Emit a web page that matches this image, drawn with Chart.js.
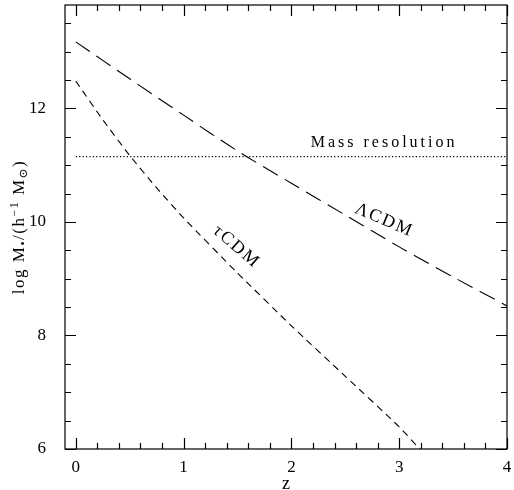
<!DOCTYPE html>
<html>
<head>
<meta charset="utf-8">
<script src="https://cdn.jsdelivr.net/npm/chart.js@4.4.1/dist/chart.umd.min.js"></script>
<style>
    html, body { margin: 0; padding: 0; background: #fff; }
    #wrap { width: 514px; height: 490px; }
</style>
</head>
<body>
<div id="wrap"><canvas id="chart" width="514" height="490"></canvas></div>
<script>
// redshift grid
const lambdaZ = [0, 0.5, 1, 1.5, 2, 2.5, 3, 3.5, 4];
const lambdaLogM = [13.17, 12.52, 11.88, 11.25, 10.68, 10.12, 9.56, 9.03, 8.52];

const tauZ = [0, 0.25, 0.5, 0.75, 1, 1.5, 2, 2.5, 3, 3.19];
const tauLogM = [12.48, 11.8, 11.17, 10.6, 10.07, 9.1, 8.17, 7.28, 6.39, 6.0];

const massResZ = [0, 4];
const massResLogM = [11.15, 11.15];

const xTickValues = [0, 1, 2, 3, 4];
const yTickValues = [6, 8, 10, 12];

const toPoints = (xs, ys) => xs.map((x, i) => ({ x: x, y: ys[i] }));

const serif = "'Liberation Serif', 'DejaVu Serif', serif";

// draws a run of [text, shift] pieces left to right, shift in px (neg = raised)
function drawPieces(ctx, pieces, size) {
    let total = 0;
    pieces.forEach((p) => {
        ctx.font = (p[1] ? size * 0.7 : size) + "px " + serif;
        total += ctx.measureText(p[0]).width;
    });
    let x = -total / 2;
    pieces.forEach((p) => {
        ctx.font = (p[1] ? size * 0.7 : size) + "px " + serif;
        ctx.fillText(p[0], x, p[1]);
        x += ctx.measureText(p[0]).width;
    });
}

// inward ticks on all four sides, frame, y title and curve labels
const framePlugin = {
    id: "frame",
    afterDraw(chart) {
        const { ctx, chartArea: a, scales } = chart;
        const xs = scales.x;
        const ys = scales.y;
        ctx.save();
        ctx.strokeStyle = "#000";
        ctx.lineWidth = 1.2;
        ctx.strokeRect(a.left, a.top, a.right - a.left, a.bottom - a.top);

        ctx.beginPath();
        for (let v = 0; v <= 4.001; v += 0.2) {
            const major = Math.abs(v - Math.round(v)) < 1e-6;
            const len = major ? 11 : 6;
            const px = Math.round(xs.getPixelForValue(v)) + 0.5;
            ctx.moveTo(px, a.bottom); ctx.lineTo(px, a.bottom - len);
            ctx.moveTo(px, a.top); ctx.lineTo(px, a.top + len);
        }
        for (let v = 6; v <= 13.8; v += 0.5) {
            const major = Math.abs(v / 2 - Math.round(v / 2)) < 1e-6;
            const len = major ? 11 : 6;
            const py = Math.round(ys.getPixelForValue(v)) + 0.5;
            ctx.moveTo(a.left, py); ctx.lineTo(a.left + len, py);
            ctx.moveTo(a.right, py); ctx.lineTo(a.right - len, py);
        }
        ctx.stroke();

        ctx.fillStyle = "#000";
        ctx.textAlign = "left";
        ctx.textBaseline = "middle";

        // y axis title
        ctx.save();
        ctx.translate(20, (a.top + a.bottom) / 2);
        ctx.rotate(-Math.PI / 2);
        ctx.letterSpacing = "1.5px";
        drawPieces(ctx, [
            ["log M", 0], ["•", 4], ["/(h", 0], ["−1", -5], [" M", 0], ["⊙", 4], [")", 0]
        ], 17);
        ctx.restore();

        ctx.textAlign = "center";
        ctx.font = "16px " + serif;
        ctx.letterSpacing = "3px";
        ctx.fillText("Mass resolution", xs.getPixelForValue(2.86), ys.getPixelForValue(11.39));

        ctx.font = "18px " + serif;
        ctx.letterSpacing = "2px";
        ctx.save();
        ctx.translate(xs.getPixelForValue(2.86), ys.getPixelForValue(10.03));
        ctx.rotate(23 * Math.PI / 180);
        ctx.fillText("ΛCDM", 0, 0);
        ctx.restore();

        ctx.save();
        ctx.translate(xs.getPixelForValue(1.49), ys.getPixelForValue(9.56));
        ctx.rotate(41 * Math.PI / 180);
        ctx.fillText("τCDM", 0, 0);
        ctx.restore();

        ctx.restore();
    }
};

const noPad = (scale) => {
    scale.paddingTop = 0;
    scale.paddingBottom = 0;
    scale.paddingLeft = 0;
    scale.paddingRight = 0;
};

new Chart(document.getElementById("chart"), {
    type: "scatter",
    data: {
        datasets: [
            {
                label: "ΛCDM",
                data: toPoints(lambdaZ, lambdaLogM),
                showLine: true,
                borderColor: "#000",
                borderWidth: 1.1,
                borderDash: [17, 8],
                pointRadius: 0,
                tension: 0.3
            },
            {
                label: "τCDM",
                data: toPoints(tauZ, tauLogM),
                showLine: true,
                borderColor: "#000",
                borderWidth: 1.1,
                borderDash: [7, 5],
                pointRadius: 0,
                tension: 0.2
            },
            {
                label: "Mass resolution",
                data: toPoints(massResZ, massResLogM),
                showLine: true,
                borderColor: "#000",
                borderWidth: 1.1,
                borderDash: [1.2, 2.2],
                pointRadius: 0
            }
        ]
    },
    options: {
        responsive: false,
        animation: false,
        layout: { padding: { left: 0, right: 7, top: 5, bottom: 0 } },
        plugins: {
            legend: { display: false },
            tooltip: { enabled: false }
        },
        scales: {
            x: {
                type: "linear",
                min: -0.1,
                max: 4,
                grid: { display: false },
                border: { display: false },
                afterBuildTicks: (scale) => { scale.ticks = xTickValues.map((v) => ({ value: v })); },
                afterFit: (scale) => { scale.height = 41; noPad(scale); },
                ticks: {
                    color: "#000",
                    padding: 0,
                    maxRotation: 0,
                    font: { family: serif, size: 17 }
                },
                title: {
                    display: true,
                    text: "z",
                    color: "#000",
                    padding: { top: 0, bottom: -5 },
                    font: { family: serif, size: 18 }
                }
            },
            y: {
                type: "linear",
                min: 6,
                max: 13.82,
                grid: { display: false },
                border: { display: false },
                afterBuildTicks: (scale) => { scale.ticks = yTickValues.map((v) => ({ value: v })); },
                afterFit: (scale) => { scale.width = 65; noPad(scale); },
                ticks: {
                    color: "#000",
                    padding: 11,
                    font: { family: serif, size: 17 }
                }
            }
        }
    },
    plugins: [framePlugin]
});
</script>
</body>
</html>
